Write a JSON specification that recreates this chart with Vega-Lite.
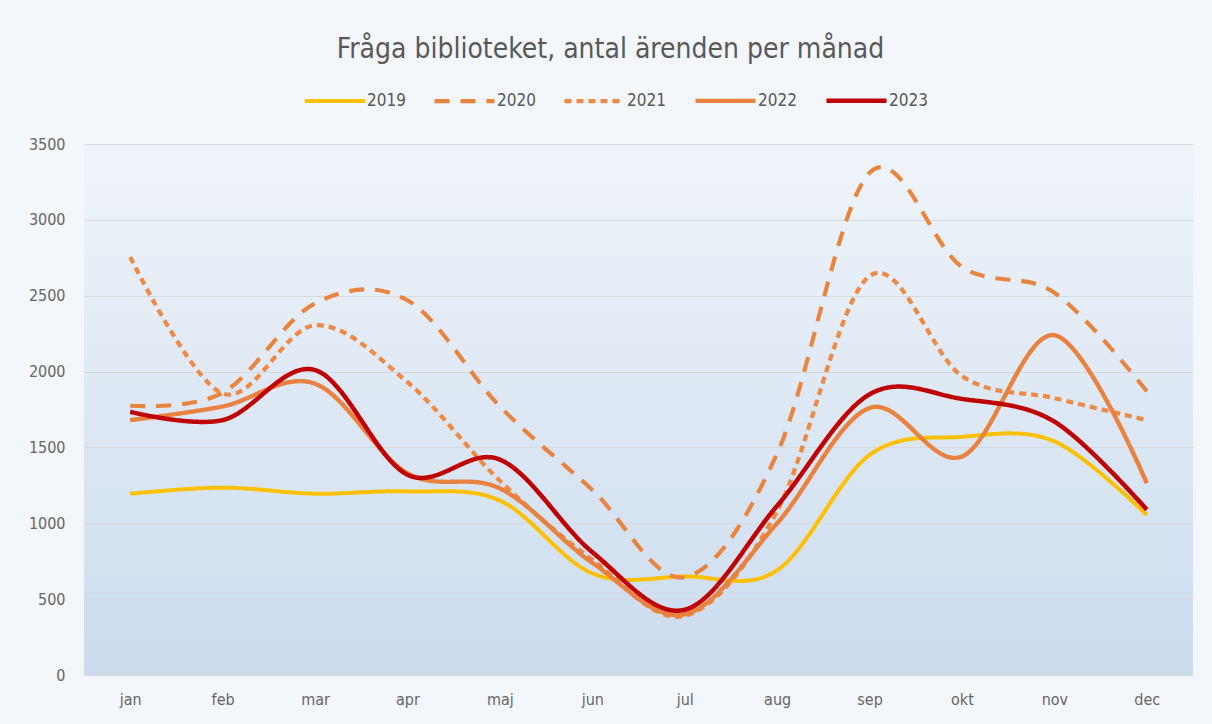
{
  "$schema": "https://vega.github.io/schema/vega-lite/v6.json",
  "width": 1109,
  "height": 531,
  "autosize": "none",
  "padding": {"left": 84, "top": 144, "right": 19, "bottom": 49},
  "background": "#f3f6fa",
  "title": {
    "text": "Fråga biblioteket, antal ärenden per månad",
    "font": "Liberation Sans Narrow, DejaVu Sans Condensed, Open Sans",
    "fontSize": 28,
    "fontWeight": "normal",
    "color": "#595959",
    "anchor": "middle",
    "dx": -28,
    "offset": 4
  },
  "config": {
    "font": "Liberation Sans Narrow, DejaVu Sans Condensed, Open Sans",
    "view": {
      "stroke": null,
      "fill": {
        "gradient": "linear",
        "x1": 0, "y1": 0, "x2": 0, "y2": 1,
        "stops": [
          {"offset": 0, "color": "#f0f4fa"},
          {"offset": 1, "color": "#cbdcee"}
        ]
      }
    },
    "legend": {
      "orient": "none",
      "legendX": 219,
      "legendY": -76,
      "direction": "horizontal",
      "symbolType": "stroke",
      "symbolSize": 3600,
      "labelFontSize": 17,
      "labelColor": "#595959",
      "labelOffset": 0,
      "columnPadding": 20,
      "padding": 0
    }
  },
  "data": {
    "values": [
      {"month": "jan", "year": "2019", "value": 1195},
      {"month": "feb", "year": "2019", "value": 1235},
      {"month": "mar", "year": "2019", "value": 1195},
      {"month": "apr", "year": "2019", "value": 1210},
      {"month": "maj", "year": "2019", "value": 1150},
      {"month": "jun", "year": "2019", "value": 670},
      {"month": "jul", "year": "2019", "value": 650},
      {"month": "aug", "year": "2019", "value": 690},
      {"month": "sep", "year": "2019", "value": 1450},
      {"month": "okt", "year": "2019", "value": 1570},
      {"month": "nov", "year": "2019", "value": 1540},
      {"month": "dec", "year": "2019", "value": 1055},
      {"month": "jan", "year": "2020", "value": 1775},
      {"month": "feb", "year": "2020", "value": 1860},
      {"month": "mar", "year": "2020", "value": 2450},
      {"month": "apr", "year": "2020", "value": 2470},
      {"month": "maj", "year": "2020", "value": 1770},
      {"month": "jun", "year": "2020", "value": 1220},
      {"month": "jul", "year": "2020", "value": 645},
      {"month": "aug", "year": "2020", "value": 1460},
      {"month": "sep", "year": "2020", "value": 3310},
      {"month": "okt", "year": "2020", "value": 2690},
      {"month": "nov", "year": "2020", "value": 2520},
      {"month": "dec", "year": "2020", "value": 1870},
      {"month": "jan", "year": "2021", "value": 2755},
      {"month": "feb", "year": "2021", "value": 1855},
      {"month": "mar", "year": "2021", "value": 2305},
      {"month": "apr", "year": "2021", "value": 1930},
      {"month": "maj", "year": "2021", "value": 1280},
      {"month": "jun", "year": "2021", "value": 760},
      {"month": "jul", "year": "2021", "value": 390},
      {"month": "aug", "year": "2021", "value": 1080},
      {"month": "sep", "year": "2021", "value": 2630},
      {"month": "okt", "year": "2021", "value": 1970},
      {"month": "nov", "year": "2021", "value": 1825},
      {"month": "dec", "year": "2021", "value": 1680},
      {"month": "jan", "year": "2022", "value": 1680},
      {"month": "feb", "year": "2022", "value": 1770},
      {"month": "mar", "year": "2022", "value": 1920},
      {"month": "apr", "year": "2022", "value": 1330},
      {"month": "maj", "year": "2022", "value": 1230},
      {"month": "jun", "year": "2022", "value": 740},
      {"month": "jul", "year": "2022", "value": 400},
      {"month": "aug", "year": "2022", "value": 1000},
      {"month": "sep", "year": "2022", "value": 1760},
      {"month": "okt", "year": "2022", "value": 1440},
      {"month": "nov", "year": "2022", "value": 2240},
      {"month": "dec", "year": "2022", "value": 1265},
      {"month": "jan", "year": "2023", "value": 1735},
      {"month": "feb", "year": "2023", "value": 1680},
      {"month": "mar", "year": "2023", "value": 2010},
      {"month": "apr", "year": "2023", "value": 1320},
      {"month": "maj", "year": "2023", "value": 1420},
      {"month": "jun", "year": "2023", "value": 810},
      {"month": "jul", "year": "2023", "value": 430},
      {"month": "aug", "year": "2023", "value": 1115},
      {"month": "sep", "year": "2023", "value": 1850},
      {"month": "okt", "year": "2023", "value": 1820},
      {"month": "nov", "year": "2023", "value": 1670},
      {"month": "dec", "year": "2023", "value": 1090}
    ]
  },
  "mark": {"type": "line", "interpolate": "cardinal", "tension": 0, "strokeCap": "butt"},
  "encoding": {
    "x": {
      "field": "month",
      "type": "ordinal",
      "sort": ["jan", "feb", "mar", "apr", "maj", "jun", "jul", "aug", "sep", "okt", "nov", "dec"],
      "scale": {"type": "point", "padding": 0.5},
      "axis": {
        "title": null,
        "labelAngle": 0,
        "ticks": false,
        "domain": false,
        "grid": false,
        "labelPadding": 16,
        "labelFontSize": 16,
        "labelColor": "#666666"
      }
    },
    "y": {
      "field": "value",
      "type": "quantitative",
      "scale": {"domain": [0, 3500]},
      "axis": {
        "title": null,
        "values": [0, 500, 1000, 1500, 2000, 2500, 3000, 3500],
        "format": "d",
        "ticks": false,
        "domain": false,
        "labelPadding": 19,
        "labelFontSize": 16,
        "labelColor": "#666666",
        "gridColor": "#d5d9de",
        "gridWidth": 1
      }
    },
    "color": {
      "field": "year",
      "type": "nominal",
      "scale": {
        "domain": ["2019", "2020", "2021", "2022", "2023"],
        "range": ["#ffc000", "#e9843f", "#ec8a46", "#e9823f", "#c00000"]
      },
      "legend": {"title": null}
    },
    "strokeDash": {
      "field": "year",
      "type": "nominal",
      "scale": {
        "domain": ["2019", "2020", "2021", "2022", "2023"],
        "range": [[1, 0], [15, 11], [7, 5], [1, 0], [1, 0]]
      },
      "legend": {"title": null}
    },
    "strokeWidth": {
      "field": "year",
      "type": "nominal",
      "scale": {
        "domain": ["2019", "2020", "2021", "2022", "2023"],
        "range": [4, 4.5, 3.5, 2.5, 5]
      },
      "legend": {"title": null}
    }
  }
}
